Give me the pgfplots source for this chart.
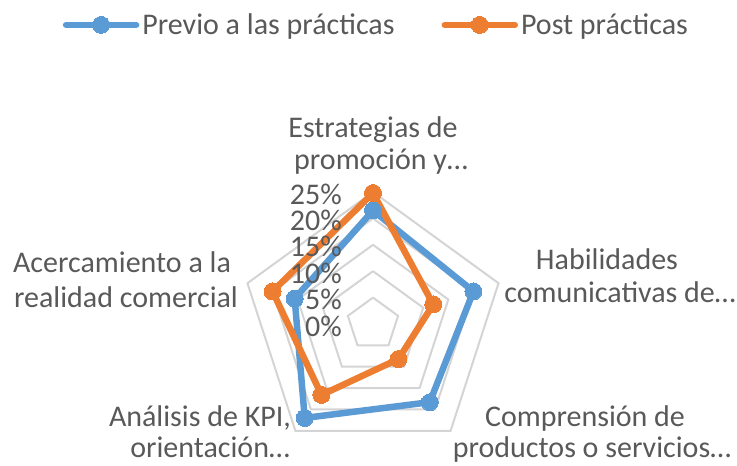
\documentclass[border=0pt]{standalone}
\usepackage{pgfplots}
\pgfplotsset{compat=1.18}
\usepgfplotslibrary{polar}
\usepackage{fontspec}
\setmainfont{Carlito}
\definecolor{txt}{RGB}{89,89,89}
\definecolor{blu}{RGB}{91,155,213}
\definecolor{ora}{RGB}{237,125,49}
\definecolor{grd}{RGB}{212,212,212}
\newcommand\cf{\fontsize{30pt}{36pt}\selectfont}
\begin{document}
\begin{tikzpicture}[x=1pt,y=1pt]
\path[use as bounding box] (0,0) rectangle (737,466);
\begin{polaraxis}[
  at={(373pt,142pt)}, anchor=center,
  width=264pt, height=264pt, scale only axis,
  ymin=0, ymax=25,
  hide axis, clip=false,
  legend columns=2,
  legend style={at={(0.509,1.633)}, anchor=center, draw=none, fill=none,
    font=\cf, text=txt, nodes={inner sep=0pt},
    /tikz/every odd column/.append style={column sep=3pt},
    /tikz/every even column/.append style={column sep=47pt}},
  legend image code/.code={\draw[mark repeat=2,mark phase=2,#1] plot coordinates {(0pt,0pt) (35pt,0pt) (70pt,0pt)};},
]
% grid pentagons
\addplot[grd, line width=2pt, line join=miter, forget plot] coordinates {(90,5) (18,5) (-54,5) (-126,5) (162,5) (90,5)};
\addplot[grd, line width=2pt, line join=miter, forget plot] coordinates {(90,10) (18,10) (-54,10) (-126,10) (162,10) (90,10)};
\addplot[grd, line width=2pt, line join=miter, forget plot] coordinates {(90,15) (18,15) (-54,15) (-126,15) (162,15) (90,15)};
\addplot[grd, line width=2pt, line join=miter, forget plot] coordinates {(90,20) (18,20) (-54,20) (-126,20) (162,20) (90,20)};
\addplot[grd, line width=2pt, line join=miter, forget plot] coordinates {(90,25) (18,25) (-54,25) (-126,25) (162,25) (90,25)};
% data
\addplot[blu, line width=6.5pt, line join=round, line cap=round, mark=*, mark size=8.5pt,
  mark options={fill=blu, draw=blu, line width=0pt}]
  coordinates {(90,21.5) (18,20) (-54,18.3) (-126,22) (162,15.6) (90,21.5)};
\addlegendentry{Previo a las prácticas}
\addplot[ora, line width=6.5pt, line join=round, line cap=round, mark=*, mark size=8.5pt,
  mark options={fill=ora, draw=ora, line width=0pt}]
  coordinates {(90,24.8) (18,12) (-54,8.2) (-126,16.6) (162,20) (90,24.8)};
\addlegendentry{Post prácticas}
% radial value labels
\foreach \v in {0,5,10,15,20,25} {
  \edef\tmp{\noexpand\node[anchor=east, inner sep=0pt, xshift=-31pt, yshift=-2pt, font=\noexpand\cf, text=txt] at (axis cs:90,\v) {\v\noexpand\%};}
  \tmp
}
\end{polaraxis}
% category labels
\begin{scope}[every node/.style={anchor=base, inner sep=0pt, font=\cf, text=txt}]
\node at (373,328) {Estrategias de};
\node at (381,296) {promoción y…};
\node at (607,196) {Habilidades};
\node at (620,163) {comunicativas de…};
\node at (585,39) {Comprensión de};
\node at (592,8) {productos o servicios…};
\node at (200,39) {Análisis de KPI,};
\node at (210,8) {orientación…};
\node at (122,193) {Acercamiento a la};
\node at (126,158) {realidad comercial};
\end{scope}
\end{tikzpicture}
\end{document}
